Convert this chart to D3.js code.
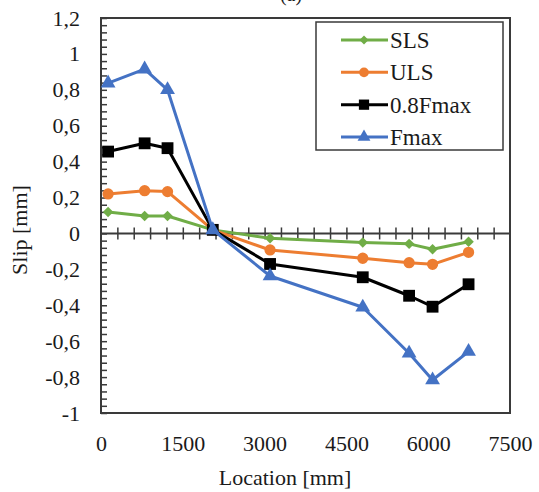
<!DOCTYPE html>
<html>
<head>
<meta charset="utf-8">
<script src="https://cdn.jsdelivr.net/npm/d3@7"></script>
<style>
  html, body { margin: 0; padding: 0; background: #fff; }
  svg { display: block; }
  svg text { font-family: 'Liberation Serif', 'Times New Roman', Times, 'DejaVu Serif', serif !important; fill: #1a1a1a; }
</style>
</head>
<body>
<svg id="chart" width="539" height="492"></svg>
<script>
// Measurement locations along the member [mm]
const locations = [130, 800, 1220, 2050, 3100, 4800, 5650, 6080, 6740];

// Slip [mm] per load level
const slipSLS    = [0.12, 0.097, 0.097, 0.02, -0.027, -0.051, -0.058, -0.088, -0.046];
const slipULS    = [0.22, 0.238, 0.233, 0.02, -0.092, -0.138, -0.163, -0.172, -0.105];
const slip08Fmax = [0.456, 0.502, 0.475, 0.02, -0.17, -0.244, -0.347, -0.408, -0.283];
const slipFmax   = [0.837, 0.915, 0.80, 0.02, -0.237, -0.411, -0.667, -0.816, -0.658];

const seriesNames = ["SLS", "ULS", "0.8Fmax", "Fmax"];
const xTickValues = [0, 1500, 3000, 4500, 6000, 7500];
const yTickValues = [1.2, 1, 0.8, 0.6, 0.4, 0.2, 0, -0.2, -0.4, -0.6, -0.8, -1];

const series = [
  { name: seriesNames[0], values: slipSLS,    color: "#70AD47", symbol: d3.symbolDiamond2, size: 70 },
  { name: seriesNames[1], values: slipULS,    color: "#ED7D31", symbol: d3.symbolCircle,   size: 100 },
  { name: seriesNames[2], values: slip08Fmax, color: "#000000", symbol: d3.symbolSquare,   size: 140 },
  { name: seriesNames[3], values: slipFmax,   color: "#4472C4", symbol: d3.symbolTriangle, size: 95 }
];

const serif = "'Liberation Serif', 'Times New Roman', Times, 'DejaVu Serif', serif";
const svg = d3.select("#chart").style("font-family", serif);
const plot = { left: 101, right: 510, top: 18, bottom: 413 };

const x = d3.scaleLinear().domain([0, 7500]).range([plot.left, plot.right]);
const y = d3.scaleLinear().domain([-1, 1.2]).range([plot.bottom, plot.top]);

const fmt = v => String(+v.toFixed(1)).replace(".", ",");
const axisColor = "#3a3a3a";

// Caption above the plot (only its lower part falls inside the page)
svg.append("text")
  .attr("x", 291).attr("y", 1)
  .attr("text-anchor", "middle")
  .style("font-size", "20px")
  .text("(a)");

// Left axis: minor ticks inside the plot every 0.04
const yMinor = d3.range(-1, 1.2001, 0.04);
svg.append("g")
  .attr("transform", `translate(${plot.left},0)`)
  .call(d3.axisRight(y).tickValues(yMinor).tickSize(6).tickFormat(""))
  .call(g => g.select(".domain").remove())
  .call(g => g.selectAll("line").attr("stroke", axisColor).attr("stroke-width", 1.5));

// Left axis labels
svg.append("g")
  .attr("transform", `translate(${plot.left},0)`)
  .call(d3.axisLeft(y).tickValues(yTickValues).tickSize(0).tickPadding(21).tickFormat(fmt))
  .call(g => g.select(".domain").remove())
  .call(g => g.attr("font-family", null).attr("font-size", null))
  .call(g => g.selectAll("text").style("font-size", "22px"));

// Horizontal zero line with crossing ticks every 300 mm
const xMinor = d3.range(300, 7500, 300);
const zeroAxis = svg.append("g").attr("transform", `translate(0,${y(0)})`);
zeroAxis.call(d3.axisBottom(x).tickValues(xMinor).tickSize(6).tickFormat(""))
  .call(g => g.select(".domain").remove())
  .call(g => g.selectAll("line").attr("stroke", axisColor).attr("stroke-width", 1.5).attr("y1", -6));
zeroAxis.append("line")
  .attr("x1", x(0)).attr("x2", x(7500))
  .attr("stroke", axisColor).attr("stroke-width", 2);

// Bottom tick labels
svg.append("g")
  .attr("transform", `translate(0,${plot.bottom})`)
  .call(d3.axisBottom(x).tickValues(xTickValues).tickSize(0).tickPadding(22).tickFormat(d3.format("d")))
  .call(g => g.select(".domain").remove())
  .call(g => g.attr("font-family", null).attr("font-size", null))
  .call(g => g.selectAll("text").style("font-size", "22px"));

// Plot frame
svg.append("rect")
  .attr("x", plot.left).attr("y", plot.top)
  .attr("width", plot.right - plot.left).attr("height", plot.bottom - plot.top)
  .attr("fill", "none").attr("stroke", axisColor).attr("stroke-width", 2);

// Axis titles
svg.append("text")
  .attr("x", 285).attr("y", 485)
  .attr("text-anchor", "middle")
  .style("font-size", "22px")
  .text("Location [mm]");

svg.append("text")
  .attr("transform", "translate(27,230) rotate(-90)")
  .attr("text-anchor", "middle")
  .style("font-size", "22px")
  .text("Slip [mm]");

// Series lines and markers
const line = d3.line().x((d, i) => x(locations[i])).y(d => y(d));
series.forEach(s => {
  const g = svg.append("g");
  g.append("path")
    .attr("d", line(s.values))
    .attr("fill", "none")
    .attr("stroke", s.color)
    .attr("stroke-width", 3)
    .attr("stroke-linejoin", "round");
  g.selectAll("path.mark")
    .data(s.values)
    .join("path")
    .attr("class", "mark")
    .attr("d", d3.symbol().type(s.symbol).size(s.size))
    .attr("transform", (d, i) => `translate(${x(locations[i])},${y(d)})`)
    .attr("fill", s.color);
});

// Legend
const legend = svg.append("g");
legend.append("rect")
  .attr("x", 316).attr("y", 22)
  .attr("width", 187).attr("height", 128)
  .attr("fill", "#fff").attr("stroke", axisColor).attr("stroke-width", 1.5);

const rowY = d3.scalePoint().domain(seriesNames).range([40, 137]);
series.forEach(s => {
  const yy = rowY(s.name);
  legend.append("line")
    .attr("x1", 341).attr("x2", 388).attr("y1", yy).attr("y2", yy)
    .attr("stroke", s.color).attr("stroke-width", 3);
  legend.append("path")
    .attr("d", d3.symbol().type(s.symbol).size(s.size * 0.75))
    .attr("transform", `translate(364,${yy})`)
    .attr("fill", s.color);
  legend.append("text")
    .attr("x", 390).attr("y", yy)
    .attr("dy", "0.35em")
    .style("font-size", "23px")
    .text(s.name);
});
</script>
</body>
</html>
